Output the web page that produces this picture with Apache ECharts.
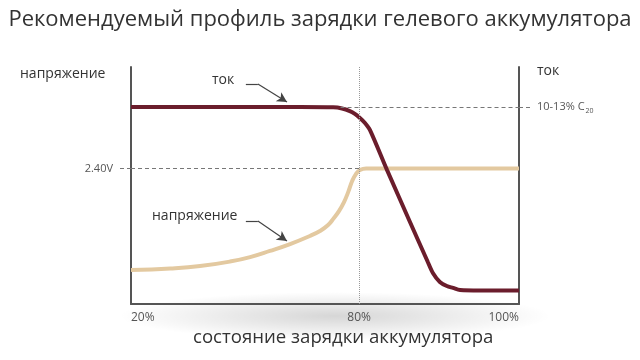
<!DOCTYPE html>
<html>
<head>
<meta charset="utf-8">
<script src="https://cdn.jsdelivr.net/npm/echarts@6/dist/echarts.min.js"></script>
<style>html,body{margin:0;padding:0;background:#fff}#c{width:640px;height:360px}</style>
</head>
<body>
<div id="c"></div>
<script>
// x: position along the (non-linear) state-of-charge axis, 0..100 ; y: relative level 0..100
const xTickPos = [0, 58.8, 100];
const xTickLabels = ['20%', '80%', '100%'];
const voltageLevel = 57.2;      // 2.40V
const voltageLabel = '2.40V';
const currentLevel = 83.1;      // 10-13% C20
const currentLabel = '10-13% C';
const currentLabelSub = '20';

const voltageData = [
  [0, 14.3], [10.1, 15.0], [17.8, 16.0], [25.5, 17.9], [30.7, 19.8], [35.8, 22.4],
  [41.0, 25.3], [46.1, 28.7], [48.7, 30.8], [50.8, 33.3], [52.3, 36.3], [53.6, 39.2],
  [54.9, 43.0], [56.0, 47.3], [57.0, 51.9], [58.0, 54.9], [59.0, 56.5], [60.6, 57.2],
  [62.9, 57.2], [100, 57.2]
];
const currentData = [
  [0, 83.1], [17.8, 83.1], [43.6, 83.1], [52.1, 83.0], [54.4, 82.5], [56.4, 81.4],
  [57.7, 80.2], [59.0, 78.5], [60.3, 76.4], [61.6, 73.4], [66.0, 56.5], [71.9, 34.6],
  [76.5, 17.7], [77.8, 13.1], [79.6, 9.3], [81.4, 7.6], [83.0, 6.8], [84.8, 5.9],
  [89.9, 5.7], [100, 5.7]
];
// annotation arrows: [start, elbow, tip]
const currentArrow = [[29.6, 92.8], [32.7, 92.8], [40.2, 85.2]];
const voltageArrow = [[29.6, 35.0], [32.7, 35.0], [40.2, 26.6]];

const chart = echarts.init(document.getElementById('c'), null, {renderer: 'canvas'});
const FONT = 'Open Sans';
const axisColor = '#555';

function arrowLines(pts) {
  return [
    [{coord: pts[0], symbol: 'none'}, {coord: pts[1], symbol: 'none'}],
    [{coord: pts[1], symbol: 'none'}, {coord: pts[2], symbol: 'arrow', symbolSize: [8, 10]}]
  ];
}

chart.setOption({
  animation: false,
  backgroundColor: '#fff',
  title: {
    text: 'Рекомендуемый профиль зарядки гелевого аккумулятора',
    left: 'center', top: 4,
    textStyle: {fontFamily: FONT, fontSize: 22, fontWeight: 'normal', color: '#333'}
  },
  grid: {left: 131, right: 121, top: 67, bottom: 56},
  xAxis: {
    type: 'value', min: 0, max: 100,
    splitLine: {show: false},
    axisLine: {lineStyle: {color: axisColor, width: 2}},
    axisTick: {show: false},
    axisLabel: {
      customValues: xTickPos,
      formatter: (v) => xTickLabels[xTickPos.indexOf(v)],
      alignMinLabel: 'left', alignMaxLabel: 'right',
      margin: 8, color: '#555', fontFamily: FONT, fontSize: 12
    }
  },
  yAxis: [
    {
      type: 'value', min: 0, max: 100, position: 'left',
      splitLine: {show: false},
      axisLine: {show: true, lineStyle: {color: axisColor, width: 2}},
      axisTick: {show: true, customValues: [voltageLevel], length: 13, inside: false,
        lineStyle: {color: '#777', type: [4, 3], width: 1}},
      axisLabel: {customValues: [voltageLevel], formatter: () => voltageLabel,
        margin: 18, color: '#555', fontFamily: FONT, fontSize: 11}
    },
    {
      type: 'value', min: 0, max: 100, position: 'right',
      splitLine: {show: false},
      axisLine: {show: true, lineStyle: {color: axisColor, width: 2}},
      axisTick: {show: true, customValues: [currentLevel], length: 13, inside: false,
        lineStyle: {color: '#777', type: [4, 3], width: 1}},
      axisLabel: {customValues: [currentLevel],
        formatter: () => currentLabel + '{s|' + currentLabelSub + '}',
        margin: 18, color: '#555', fontFamily: FONT, fontSize: 11,
        rich: {s: {fontSize: 7, color: '#555', fontFamily: FONT, padding: [8, 0, 0, 1]}}}
    }
  ],
  graphic: [
    {type: 'circle', z: -1, x: 335, y: 316, scaleX: 9, scaleY: 1,
      shape: {cx: 0, cy: 0, r: 24},
      style: {fill: new echarts.graphic.RadialGradient(0.5, 0.5, 0.5, [
        {offset: 0, color: 'rgba(0,0,0,0.16)'}, {offset: 1, color: 'rgba(0,0,0,0)'}])}},
    {type: 'text', left: 20, top: 67, style: {text: 'напряжение', fontFamily: FONT, fontSize: 14, fill: '#333'}},
    {type: 'text', left: 537, top: 64, style: {text: 'ток', fontFamily: FONT, fontSize: 14, fill: '#333'}},
    {type: 'text', left: 212, top: 73, style: {text: 'ток', fontFamily: FONT, fontSize: 14, fill: '#333'}},
    {type: 'text', left: 152, top: 209, style: {text: 'напряжение', fontFamily: FONT, fontSize: 14, fill: '#333'}},
    {type: 'text', left: 193, top: 328, style: {text: 'состояние зарядки аккумулятора', fontFamily: FONT, fontSize: 18.6, fill: '#333'}}
  ],
  series: [
    {
      name: 'напряжение', type: 'line', yAxisIndex: 0, data: voltageData,
      smooth: 0.45, showSymbol: false,
      lineStyle: {color: '#e3c9a0', width: 4},
      markLine: {
        silent: true, symbol: 'none', animation: false,
        label: {show: false},
        data: [
          [{coord: [0, voltageLevel], lineStyle: {color: '#777', type: [4, 3], width: 1}},
           {coord: [xTickPos[1], voltageLevel]}],
          [{coord: [54, currentLevel], lineStyle: {color: '#777', type: [4, 3], width: 1}},
           {coord: [100, currentLevel]}],
          [{coord: [xTickPos[1], 0], lineStyle: {color: '#999', type: [1, 1], width: 1}},
           {coord: [xTickPos[1], 100]}]
        ]
      }
    },
    {
      name: 'ток', type: 'line', yAxisIndex: 1, data: currentData,
      smooth: 0.3, showSymbol: false,
      lineStyle: {color: '#6b1d2c', width: 4},
      markLine: {
        silent: true, animation: false,
        label: {show: false},
        lineStyle: {color: '#444', type: 'solid', width: 1.2},
        data: arrowLines(currentArrow).concat(arrowLines(voltageArrow))
      }
    }
  ]
});
</script>
</body>
</html>
